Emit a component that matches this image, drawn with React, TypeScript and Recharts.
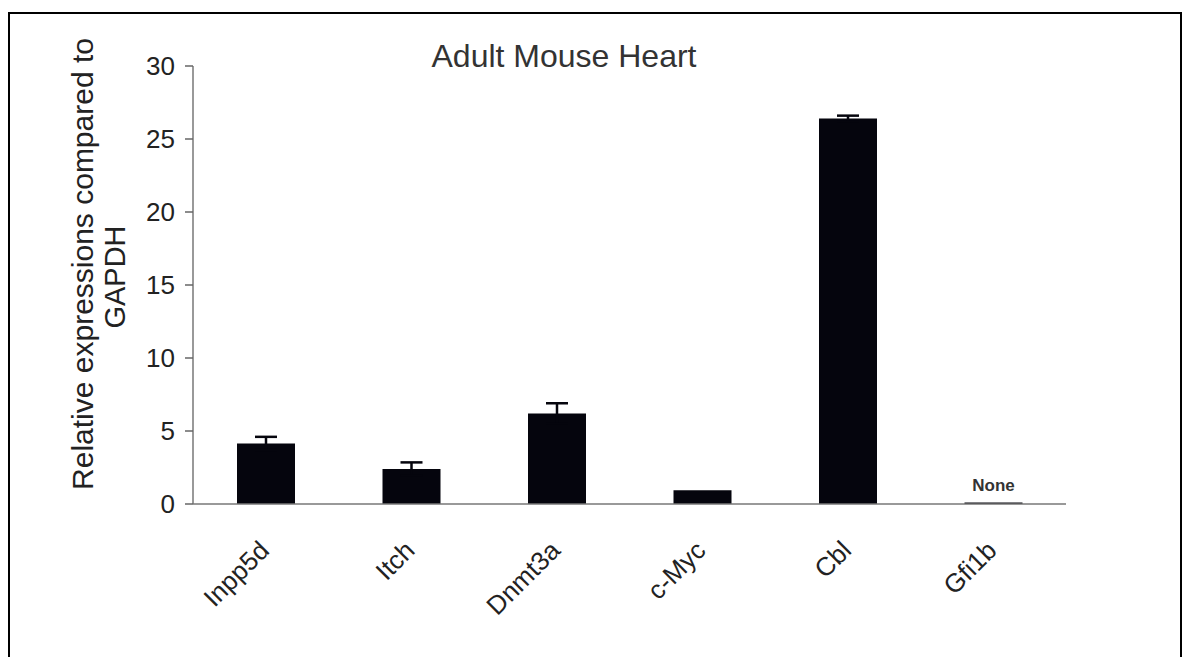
import { BarChart, Bar, XAxis, YAxis, ErrorBar, LabelList } from "recharts";

const genes = ["Inpp5d", "Itch", "Dnmt3a", "c-Myc", "Cbl", "Gfi1b"];
const expression = [4.15, 2.4, 6.2, 0.95, 26.4, 0.1];
const errors = [0.45, 0.45, 0.7, 0, 0.2, 0];
const notes = ["", "", "", "", "", "None"];
const yTicks = [0, 5, 10, 15, 20, 25, 30];

const data = genes.map((g, i) => ({
  gene: g,
  value: expression[i],
  err: errors[i],
  note: notes[i],
}));

const FONT = "'Liberation Sans', Arial, sans-serif";

function GeneTick(props: any) {
  const { x, y, payload } = props;
  const tx = x + 5;
  const ty = y + 40;
  return (
    <text
      x={tx}
      y={ty}
      transform={`rotate(-45, ${tx}, ${ty})`}
      textAnchor="end"
      fontSize={26}
      fontFamily={FONT}
      fill="#222"
    >
      {payload.value}
    </text>
  );
}

export default function App() {
  return (
    <div style={{ position: "absolute", left: 0, top: 0, width: 1182, height: 657, background: "#fff", overflow: "hidden" }}>
      <div
        style={{
          position: "absolute",
          left: 8,
          top: 12,
          width: 1170,
          height: 700,
          borderLeft: "2px solid #000",
          borderTop: "2px solid #000",
          borderRight: "2px solid #000",
        }}
      />
      <svg width={1182} height={657} style={{ position: "absolute", left: 0, top: 0 }}>
        <text x={564} y={67} textAnchor="middle" fontSize={32} fontFamily={FONT} fill="#333">
          Adult Mouse Heart
        </text>
        <text x={93} y={264} transform="rotate(-90, 93, 264)" textAnchor="middle" fontSize={30} fontFamily={FONT} fill="#222">
          Relative expressions compared to
        </text>
        <text x={125} y={277} transform="rotate(-90, 125, 277)" textAnchor="middle" fontSize={29} fontFamily={FONT} fill="#222">
          GAPDH
        </text>
      </svg>
      <div style={{ position: "absolute", left: 0, top: 0 }}>
        <BarChart
          width={1182}
          height={657}
          data={data}
          margin={{ top: 66, right: 116, left: 133, bottom: 123 }}
          barCategoryGap={44}
        >
          <XAxis
            dataKey="gene"
            height={30}
            tickLine={false}
            axisLine={{ stroke: "#777", strokeWidth: 1.5 }}
            tick={<GeneTick />}
            interval={0}
          />
          <YAxis
            width={60}
            domain={[0, 30]}
            ticks={yTicks}
            tickSize={8}
            tickMargin={10}
            axisLine={{ stroke: "#777", strokeWidth: 1.5 }}
            tickLine={{ stroke: "#666", strokeWidth: 1.5 }}
            tick={{ fontSize: 26, fontFamily: FONT, fill: "#222" }}
          />
          <Bar dataKey="value" fill="#05050d" isAnimationActive={false}>
            <ErrorBar dataKey="err" width={11} stroke="#05050d" strokeWidth={2.5} direction="y" />
            <LabelList
              dataKey="note"
              position="top"
              offset={12}
              style={{ fontSize: 17, fontWeight: "bold", fontFamily: FONT, fill: "#333" }}
            />
          </Bar>
        </BarChart>
      </div>
    </div>
  );
}
